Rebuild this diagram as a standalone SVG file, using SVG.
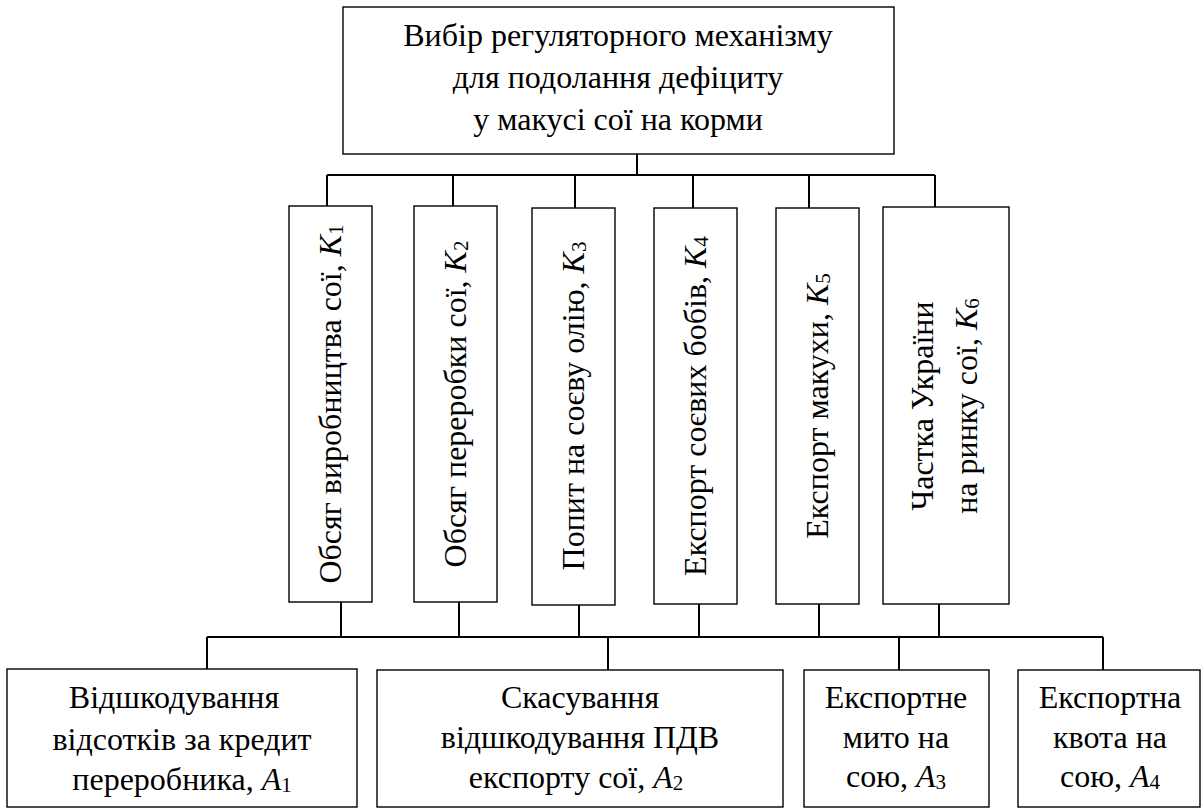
<svg xmlns="http://www.w3.org/2000/svg" width="1201" height="808" viewBox="0 0 1201 808">
<rect width="1201" height="808" fill="#fff"/>
<g id="connectors" fill="none" stroke="#000" stroke-width="2">
<path d="M637 154V175M327 175H935M327 175V206M453 175V206M575 175V208M693 175V208M809 175V208M935 175V207"/>
<path d="M341 602V637M459 602V637M579 605V637M699 604V637M819 604V637M939 604V637M207 637H1103M207 637V669M608 637V670M899 637V670M1103 637V670"/>
</g>
<g id="root">
<rect x="343" y="7" width="551" height="147" fill="#fff" stroke="#000" stroke-width="1.4"/>
<text x="618" y="46" font-size="32" font-family="Liberation Serif" text-anchor="middle">Вибір регуляторного механізму</text>
<text x="618" y="88" font-size="32" font-family="Liberation Serif" text-anchor="middle">для подолання дефіциту</text>
<text x="618" y="130" font-size="32" font-family="Liberation Serif" text-anchor="middle">у макусі сої на корми</text>
</g>
<g id="k1">
<rect x="289" y="206" width="83" height="396" fill="#fff" stroke="#000" stroke-width="1.4"/>
<text transform="translate(341,404) rotate(-90)" font-size="32" font-family="Liberation Serif" text-anchor="middle">Обсяг виробництва сої, <tspan font-style="italic">K</tspan><tspan font-size="21" dy="2">1</tspan></text>
</g>
<g id="k2">
<rect x="414" y="206" width="83" height="396" fill="#fff" stroke="#000" stroke-width="1.4"/>
<text transform="translate(466,404) rotate(-90)" font-size="32" font-family="Liberation Serif" text-anchor="middle">Обсяг переробки сої, <tspan font-style="italic">K</tspan><tspan font-size="21" dy="2">2</tspan></text>
</g>
<g id="k3">
<rect x="532" y="208" width="83" height="397" fill="#fff" stroke="#000" stroke-width="1.4"/>
<text transform="translate(584,406) rotate(-90)" font-size="32" font-family="Liberation Serif" text-anchor="middle">Попит на соєву олію, <tspan font-style="italic">K</tspan><tspan font-size="21" dy="2">3</tspan></text>
</g>
<g id="k4">
<rect x="654" y="208" width="83" height="396" fill="#fff" stroke="#000" stroke-width="1.4"/>
<text transform="translate(706,406) rotate(-90)" font-size="32" font-family="Liberation Serif" text-anchor="middle">Експорт соєвих бобів, <tspan font-style="italic">K</tspan><tspan font-size="21" dy="2">4</tspan></text>
</g>
<g id="k5">
<rect x="776" y="208" width="83" height="396" fill="#fff" stroke="#000" stroke-width="1.4"/>
<text transform="translate(828,406) rotate(-90)" font-size="32" font-family="Liberation Serif" text-anchor="middle">Експорт макухи, <tspan font-style="italic">K</tspan><tspan font-size="21" dy="2">5</tspan></text>
</g>
<g id="k6">
<rect x="883" y="207" width="126" height="397" fill="#fff" stroke="#000" stroke-width="1.4"/>
<text transform="translate(933,406) rotate(-90)" font-size="32" font-family="Liberation Serif" text-anchor="middle">Частка України</text>
<text transform="translate(977,406) rotate(-90)" font-size="32" font-family="Liberation Serif" text-anchor="middle">на ринку сої, <tspan font-style="italic">K</tspan><tspan font-size="21" dy="2">6</tspan></text>
</g>
<g id="a1">
<rect x="7" y="669" width="350" height="138" fill="#fff" stroke="#000" stroke-width="1.4"/>
<text x="174" y="708" font-size="32" font-family="Liberation Serif" text-anchor="middle">Відшкодування</text>
<text x="182" y="750" font-size="32" font-family="Liberation Serif" text-anchor="middle">відсотків за кредит</text>
<text x="182" y="790" font-size="32" font-family="Liberation Serif" text-anchor="middle">переробника, <tspan font-style="italic">A</tspan><tspan font-size="21" dy="2">1</tspan></text>
</g>
<g id="a2">
<rect x="377" y="670" width="406" height="137" fill="#fff" stroke="#000" stroke-width="1.4"/>
<text x="580" y="708" font-size="32" font-family="Liberation Serif" text-anchor="middle">Скасування</text>
<text x="580" y="748" font-size="32" font-family="Liberation Serif" text-anchor="middle">відшкодування ПДВ</text>
<text x="576" y="788" font-size="32" font-family="Liberation Serif" text-anchor="middle">експорту сої, <tspan font-style="italic">A</tspan><tspan font-size="21" dy="2">2</tspan></text>
</g>
<g id="a3">
<rect x="804" y="670" width="185" height="137" fill="#fff" stroke="#000" stroke-width="1.4"/>
<text x="896" y="708" font-size="32" font-family="Liberation Serif" text-anchor="middle">Експортне</text>
<text x="896" y="748" font-size="32" font-family="Liberation Serif" text-anchor="middle">мито на</text>
<text x="896" y="787" font-size="32" font-family="Liberation Serif" text-anchor="middle">сою, <tspan font-style="italic">A</tspan><tspan font-size="21" dy="2">3</tspan></text>
</g>
<g id="a4">
<rect x="1018" y="670" width="182" height="137" fill="#fff" stroke="#000" stroke-width="1.4"/>
<text x="1110" y="708" font-size="32" font-family="Liberation Serif" text-anchor="middle">Експортна</text>
<text x="1110" y="748" font-size="32" font-family="Liberation Serif" text-anchor="middle">квота на</text>
<text x="1110" y="787" font-size="32" font-family="Liberation Serif" text-anchor="middle">сою, <tspan font-style="italic">A</tspan><tspan font-size="21" dy="2">4</tspan></text>
</g>
</svg>
